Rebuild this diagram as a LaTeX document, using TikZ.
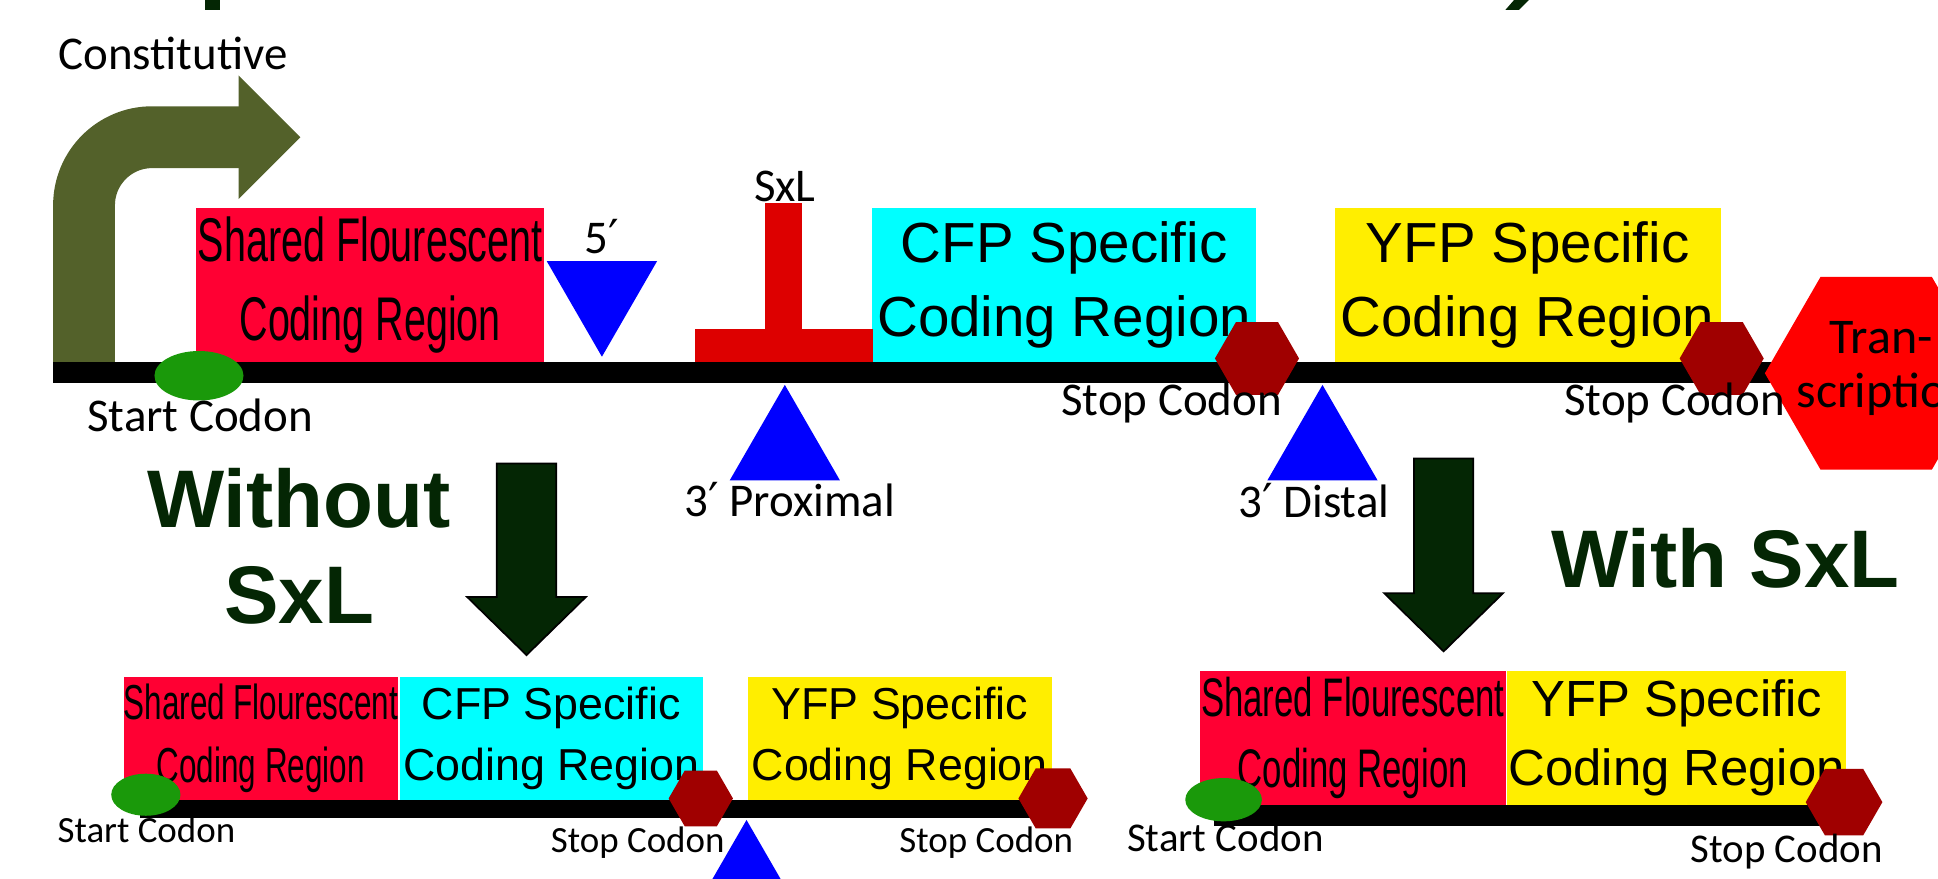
\documentclass[tikz,border=0pt]{standalone}
\usepackage{fontspec}
\usepackage{tikz}
\usetikzlibrary{arrows.meta,positioning,shapes.geometric}
\setmainfont{Carlito}
\newfontfamily\boxfont{Liberation Sans}
\newfontfamily\narrowfont[FakeStretch=0.64]{Liberation Sans}
\newfontfamily\primefont{DejaVu Sans}
\newcommand{\prm}{{\primefont ′}}
\definecolor{promgreen}{RGB}{83,97,42}
\definecolor{sharedred}{RGB}{255,0,51}
\definecolor{sxlred}{RGB}{221,0,0}
\definecolor{cfpcyan}{RGB}{0,255,255}
\definecolor{yfpyellow}{RGB}{255,238,0}
\definecolor{stopred}{RGB}{160,0,0}
\definecolor{startgreen}{RGB}{26,153,10}
\definecolor{termred}{RGB}{255,0,0}
\definecolor{siteblue}{RGB}{0,0,255}
\definecolor{darkgreen}{RGB}{4,38,4}

\begin{document}
\begin{tikzpicture}[x=0.01cm, y=-0.01cm,
  region/.style={inner sep=0pt, align=center, minimum height=1.25cm},
  shared/.style={region, fill=sharedred, font=\narrowfont\fontsize{14.2}{18.2}\selectfont},
  cfp/.style={region, fill=cfpcyan, font=\boxfont\fontsize{13}{17}\selectfont},
  yfp/.style={region, fill=yfpyellow, font=\boxfont\fontsize{13}{17}\selectfont},
  strand/.style={line width=0.17cm},
  startcodon/.style={ellipse, fill=startgreen, inner sep=0pt, minimum width=0.72cm, minimum height=0.4cm},
  stopcodon/.style={regular polygon, regular polygon sides=6, fill=stopred, inner sep=0pt, minimum size=0.68cm},
  site/.style={regular polygon, regular polygon sides=3, fill=siteblue, inner sep=0pt, minimum size=1.03cm},
  lab/.style={inner sep=0pt, anchor=base, font=\fontsize{10.8}{13}\selectfont},
  lowlab/.style={lab, font=\fontsize{8.5}{10}\selectfont},
  bigarrow/.style={fill=darkgreen, draw=black, line width=0.4pt},
  bigtext/.style={inner sep=0pt, align=center, text=darkgreen, font=\boxfont\bfseries\fontsize{18.8}{21.9}\selectfont}]
\useasboundingbox (0,0) rectangle (1568,711);
\clip (0,0) rectangle (1568,711);

\fill[darkgreen] (166,0) rectangle (178,8);
\fill[darkgreen] (1225,0) -- (1237,0) -- (1229,8) -- (1218,8) -- cycle;

\draw[promgreen, line width=0.5cm, rounded corners=0.55cm] (68,300) -- (68,111) -- (195,111);
\fill[promgreen] (193,61) -- (243,111) -- (193,161) -- cycle;

\node[shared, minimum width=2.81cm] (shared) at (299.5,230.5) {Shared Flourescent\\Coding Region};
\node[cfp, minimum width=3.1cm] (cfp) at (861,230.5) {CFP Specific\\Coding Region};
\node[yfp, minimum width=3.12cm] (yfp) at (1236,230.5) {YFP Specific\\Coding Region};
\fill[sxlred] (562,266) rectangle (706,293);
\fill[sxlred] (619,164) rectangle (649,266);

\draw[strand] (43,301.5) -- (1450,301.5);
\node[startcodon] (start) at (161,304) {};
\node[stopcodon] (stop1) at (1017,290) {};
\node[stopcodon] (stop2) at (1393,290) {};
\node[regular polygon, regular polygon sides=6, fill=termred, inner sep=0pt, minimum size=1.8cm] (term) at (1518,302) {};
\node[site, shape border rotate=180, anchor=corner 1] (five) at (487,290) {};
\node[site, anchor=corner 1] (prox) at (635,310) {};
\node[site, anchor=corner 1] (dist) at (1070,310) {};

\node[lab] (constlab) at (140,56) {Constitutive};
\node[lab] (startlab) at (162,349) {Start Codon};
\node[lab] (fivelab) at (487,205) {5\prm};
\node[lab] (sxllab) at (635,163) {SxL};
\node[lab] (stoplab1) at (948,336) {Stop Codon};
\node[lab] (stoplab2) at (1355,336) {Stop Codon};
\node[lab] (proxlab) at (639,418) {3\prm\ Proximal};
\node[lab] (distlab) at (1063,419) {3\prm\ Distal};
\node[lab, font=\fontsize{11.5}{13}\selectfont] (termlab1) at (1522,286) {Tran-};
\node[lab, font=\fontsize{11.5}{13}\selectfont] (termlab2) at (1525,330) {scription};

\coordinate (drop1) at (426,375);
\filldraw[bigarrow] (drop1) ++(-24,0) -- ++(48,0) -- ++(0,108) -- ++(24,0) -- ++(-48,47) -- ++(-48,-47) -- ++(24,0) -- cycle;
\node[bigtext] (without) at (242,442) {Without\\SxL};
\coordinate (drop2) at (1168,371);
\filldraw[bigarrow] (drop2) ++(-24,0) -- ++(48,0) -- ++(0,109) -- ++(24,0) -- ++(-48,47) -- ++(-48,-47) -- ++(24,0) -- cycle;
\node[bigtext, anchor=base] (with) at (1396,475) {With SxL};

\node[shared, minimum width=2.22cm, minimum height=0.99cm, font=\narrowfont\fontsize{11.3}{14.5}\selectfont] (blshared) at (211,597.5) {Shared Flourescent\\Coding Region};
\node[cfp, minimum width=2.45cm, minimum height=0.99cm, font=\boxfont\fontsize{10.3}{14.2}\selectfont, right=0pt of blshared] (blcfp) {CFP Specific\\Coding Region};
\node[yfp, minimum width=2.46cm, minimum height=0.99cm, font=\boxfont\fontsize{10.3}{14.2}\selectfont] (blyfp) at (728,597.5) {YFP Specific\\Coding Region};
\draw[strand, line width=0.15cm] (113,654.5) -- (860,654.5);
\node[startcodon, minimum width=0.56cm, minimum height=0.34cm] (blstart) at (118,643) {};
\node[stopcodon, minimum size=0.52cm] (blstop1) at (567,646) {};
\node[stopcodon, minimum size=0.56cm] (blstop2) at (852,646) {};
\node[site, anchor=corner 1] (blprox) at (604,662) {};
\node[lowlab] (blstartlab) at (118.5,682) {Start Codon};
\node[lowlab] (blstoplab1) at (516,690) {Stop Codon};
\node[lowlab] (blstoplab2) at (798,690) {Stop Codon};

\node[shared, minimum width=2.47cm, minimum height=1.08cm, font=\narrowfont\fontsize{12.5}{16.2}\selectfont] (brshared) at (1094.5,597) {Shared Flourescent\\Coding Region};
\node[yfp, minimum width=2.74cm, minimum height=1.08cm, font=\boxfont\fontsize{11.7}{16}\selectfont, right=0pt of brshared] (bryfp) {YFP Specific\\Coding Region};
\draw[strand] (982,659.5) -- (1480,659.5);
\node[startcodon, minimum width=0.62cm, minimum height=0.35cm] (brstart) at (990,647) {};
\node[stopcodon, minimum size=0.62cm] (brstop) at (1492,649) {};
\node[lowlab, font=\fontsize{9.4}{11}\selectfont] (brstartlab) at (991.5,689) {Start Codon};
\node[lowlab, font=\fontsize{9.4}{11}\selectfont] (brstoplab) at (1445.5,698) {Stop Codon};
\end{tikzpicture}
\end{document}
